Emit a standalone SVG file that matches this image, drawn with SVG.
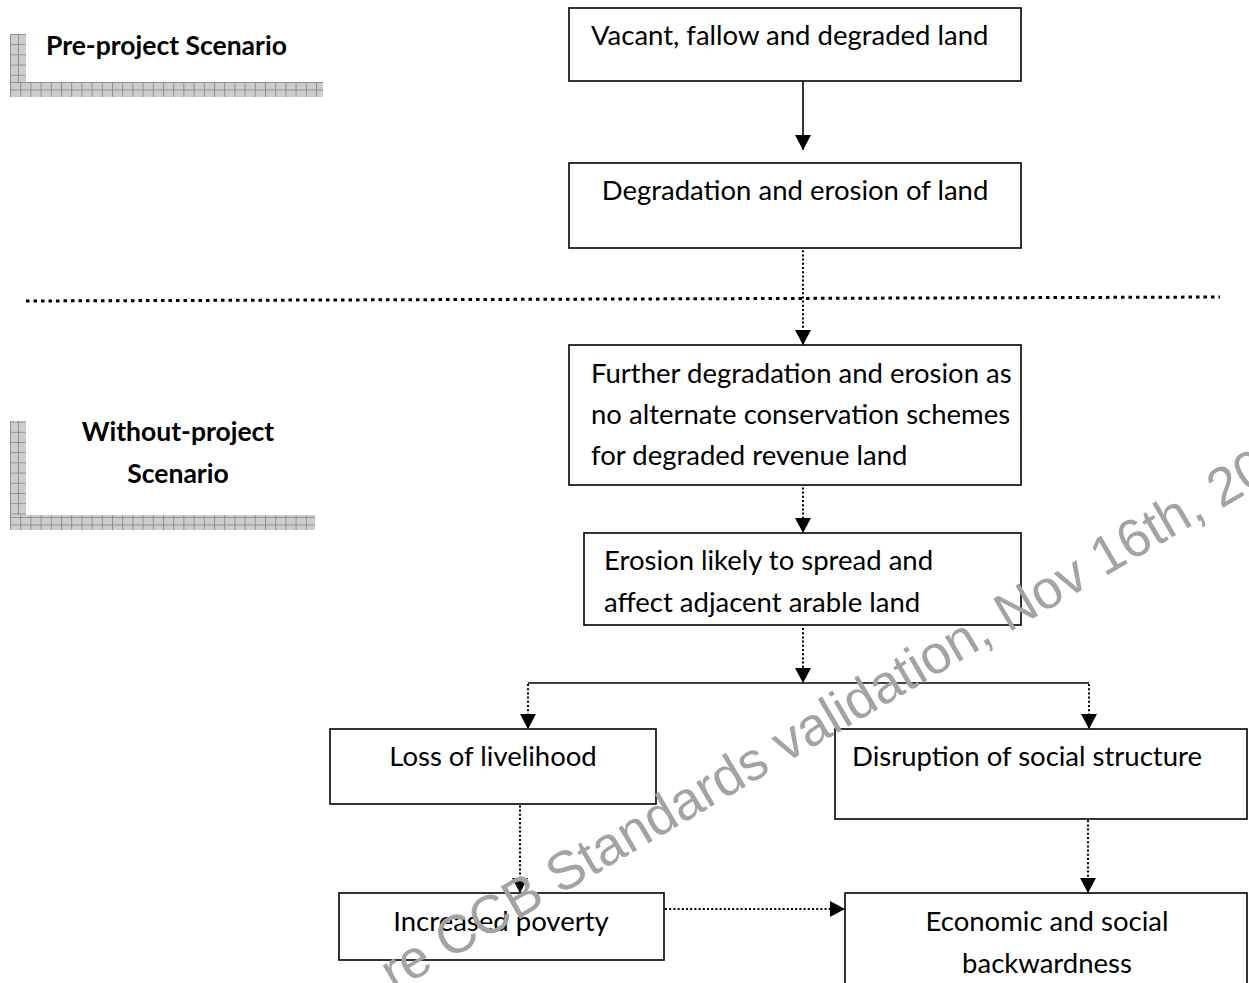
<svg xmlns="http://www.w3.org/2000/svg" width="1249" height="983" viewBox="0 0 1249 983">
<style>
.box{fill:#fff;stroke:#000;stroke-width:1.6}
.t{font-family:Lato,"Liberation Sans",sans-serif;font-size:27.5px;fill:#000}
.lbl{font-family:Lato,"Liberation Sans",sans-serif;font-size:26.5px;font-weight:bold;fill:#000}
.solid{stroke:#000;stroke-width:1.6;fill:none}
.dot{stroke:#000;stroke-width:2;stroke-dasharray:2 2.2;fill:none}
.sep{stroke:#000;stroke-width:3;stroke-dasharray:3.5 4;fill:none}
.wm{font-family:"Liberation Sans",Arial,sans-serif;font-size:54px;fill:#a3a3a3}
</style>
<defs>
<marker id="ah" markerUnits="userSpaceOnUse" markerWidth="15" markerHeight="16" refX="15" refY="8" orient="auto">
<path d="M0,0 L15,8 L0,16 z" fill="#000"/>
</marker>
<pattern id="gh" patternUnits="userSpaceOnUse" width="10.2" height="7.5" x="10" y="82">
<rect width="10.2" height="7.5" fill="#cdcdcd"/>
<path d="M0,0.5 H10.2 M0.5,0 V7.5" stroke="#8f8f8f" stroke-width="1"/>
</pattern>
<pattern id="gv" patternUnits="userSpaceOnUse" width="8" height="10.2" x="10" y="34">
<rect width="8" height="10.2" fill="#cdcdcd"/>
<path d="M0,0.5 H8 M0.5,0 V10.2" stroke="#8f8f8f" stroke-width="1"/>
</pattern>
</defs>
<rect width="1249" height="983" fill="#fff"/>

<g id="label-preproject">
<rect x="10" y="34" width="16" height="63" fill="url(#gv)"/>
<rect x="10" y="82" width="313" height="15" fill="url(#gh)"/>
<text class="lbl" x="46" y="55">Pre-project Scenario</text>
</g>

<g id="label-withoutproject">
<rect x="10" y="421" width="16" height="109" fill="url(#gv)"/>
<rect x="10" y="515" width="305" height="15" fill="url(#gh)"/>
<text class="lbl" x="178" y="441" text-anchor="middle">Without-project</text>
<text class="lbl" x="178" y="483" text-anchor="middle">Scenario</text>
</g>

<g id="separator">
<path class="sep" d="M26,301 L1220,297"/>
</g>

<g id="connectors">
<path class="solid" d="M803,79 V150" marker-end="url(#ah)"/>
<path class="dot" d="M803,246 V345" marker-end="url(#ah)"/>
<path class="dot" d="M803,479 V533" marker-end="url(#ah)"/>
<path class="dot" d="M803,628 V683" marker-end="url(#ah)"/>
<path class="solid" d="M528,683 H1089"/>
<path class="dot" d="M528,684 V729" marker-end="url(#ah)"/>
<path class="dot" d="M1089,684 V729" marker-end="url(#ah)"/>
<path class="dot" d="M520,797 V893" marker-end="url(#ah)"/>
<path class="dot" d="M1088,816 V893" marker-end="url(#ah)"/>
<path class="dot" d="M665,909 H845" marker-end="url(#ah)"/>
</g>

<g id="n1">
<rect class="box" x="569" y="8" width="452" height="73"/>
<text class="t" x="591" y="45">Vacant, fallow and degraded land</text>
</g>
<g id="n2">
<rect class="box" x="569" y="163" width="452" height="85"/>
<text class="t" x="795" y="200" text-anchor="middle">Degradation and erosion of land</text>
</g>
<g id="n3">
<rect class="box" x="569" y="345" width="452" height="140"/>
<text class="t" x="591" y="383">Further degradation and erosion as</text>
<text class="t" x="591" y="424">no alternate conservation schemes</text>
<text class="t" x="591" y="465">for degraded revenue land</text>
</g>
<g id="n4">
<rect class="box" x="584" y="533" width="437" height="92"/>
<text class="t" x="604" y="570">Erosion likely to spread and</text>
<text class="t" x="604" y="612">affect adjacent arable land</text>
</g>
<g id="n5">
<rect class="box" x="330" y="729" width="326" height="75"/>
<text class="t" x="493" y="766" text-anchor="middle">Loss of livelihood</text>
</g>
<g id="n6">
<rect class="box" x="835" y="729" width="412" height="90"/>
<text class="t" x="1027" y="766" text-anchor="middle">Disruption of social structure</text>
</g>
<g id="n7">
<rect class="box" x="339" y="893" width="325" height="67"/>
<text class="t" x="501" y="931" text-anchor="middle">Increased poverty</text>
</g>
<g id="n8">
<rect class="box" x="845" y="893" width="402" height="100"/>
<text class="t" x="1047" y="931" text-anchor="middle">Economic and social</text>
<text class="t" x="1047" y="973" text-anchor="middle">backwardness</text>
</g>

<g id="watermark">
<text class="wm" transform="translate(394,992) rotate(-30.3)">re CCB Standards validation, Nov 16th, 20</text>
</g>
</svg>
